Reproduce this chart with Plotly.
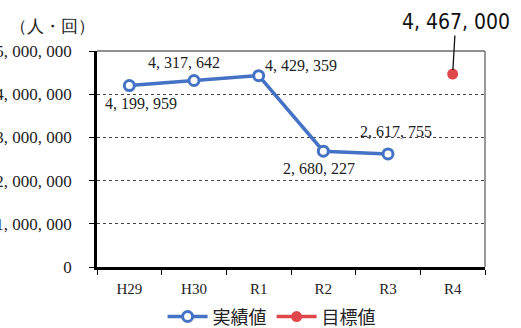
import plotly.graph_objects as go

# Annual users (people x visits)
categories = ["H29", "H30", "R1", "R2", "R3", "R4"]
actual_years = ["H29", "H30", "R1", "R2", "R3"]
actual_values = [4199959, 4317642, 4429359, 2680227, 2617755]
target_years = ["R4"]
target_values = [4467000]

y_tickvals = [0, 1000000, 2000000, 3000000, 4000000, 5000000]
y_ticktext = ["0", "1, 000, 000", "2, 000, 000", "3, 000, 000", "4, 000, 000", "5, 000, 000"]

# label offsets (px) for each actual point
label_shift = [(12, -18), (-10, 18), (42, 10), (-4, -17), (8, 22)]

SERIF = "Liberation Serif, Times New Roman, serif"
GOTHIC = "Noto Sans CJK JP, Noto Sans, sans-serif"
BLUE = "#4472C4"
RED = "#E0474C"


def fmt(v):
    return f"{v:,}".replace(",", ", ")


fig = go.Figure()
fig.add_trace(go.Scatter(
    x=actual_years, y=actual_values, name="実績値", mode="lines+markers",
    line=dict(color=BLUE, width=3.5),
    marker=dict(symbol="circle", size=10, color="white", line=dict(color=BLUE, width=3)),
))
fig.add_trace(go.Scatter(
    x=target_years, y=target_values, name="目標値", mode="lines+markers",
    line=dict(color=RED, width=3.5),
    marker=dict(symbol="circle", size=11, color=RED),
))

annotations = []
for x, v, (dx, dy) in zip(actual_years, actual_values, label_shift):
    annotations.append(dict(
        x=x, y=v, text=fmt(v), showarrow=False, xshift=dx, yshift=dy,
        font=dict(family=SERIF, size=16, color="#222"),
    ))
for x, v in zip(target_years, target_values):
    annotations.append(dict(
        x=x, y=v, text=fmt(v), showarrow=True,
        arrowhead=0, arrowwidth=1.3, arrowcolor="#111", ax=3, ay=-52, standoff=4,
        font=dict(family="Liberation Sans Narrow, DejaVu Sans Condensed, sans-serif", size=21, color="#111"),
    ))
annotations.append(dict(
    xref="paper", yref="paper", x=0.0, y=1.0, yshift=36, xanchor="right",
    text="（人・回）", showarrow=False,
    font=dict(family=SERIF, size=17, color="#222"),
))

fig.update_layout(
    width=521, height=328,
    margin=dict(l=97, r=36, t=51, b=61, autoexpand=False),
    paper_bgcolor="white", plot_bgcolor="white",
    showlegend=True,
    legend=dict(orientation="h", x=0.45, xanchor="center", y=-0.145, yanchor="top",
                font=dict(family=GOTHIC, size=18, color="#222"), itemwidth=40,
                bgcolor="rgba(0,0,0,0)"),
    annotations=annotations,
    shapes=[
        dict(type="line", xref="paper", yref="paper", x0=0, x1=1, y0=1, y1=1,
             line=dict(color="#222", width=1.2)),
        dict(type="line", xref="paper", yref="paper", x0=1, x1=1, y0=0, y1=1,
             line=dict(color="#777", width=1.5)),
    ],
)
fig.update_xaxes(
    type="category", categoryorder="array", categoryarray=categories,
    range=[-0.5, 5.5], showgrid=False, zeroline=False,
    showline=True, linecolor="black", linewidth=2.5,
    ticks="outside", tickson="boundaries", ticklen=5, tickcolor="black", tickwidth=1.3,
    tickfont=dict(family=SERIF, size=15, color="#222"), ticklabelstandoff=6,
    automargin=False,
)
fig.update_yaxes(
    range=[0, 5000000], tickvals=y_tickvals, ticktext=y_ticktext,
    showgrid=True, gridcolor="#444", griddash="dot", gridwidth=1,
    zeroline=False, showline=True, linecolor="black", linewidth=2.5,
    ticks="outside", ticklen=5, tickcolor="black", tickwidth=1.3,
    tickfont=dict(family=SERIF, size=17, color="#222"), ticklabelstandoff=14,
    automargin=False,
)

fig.write_html("out.html")
